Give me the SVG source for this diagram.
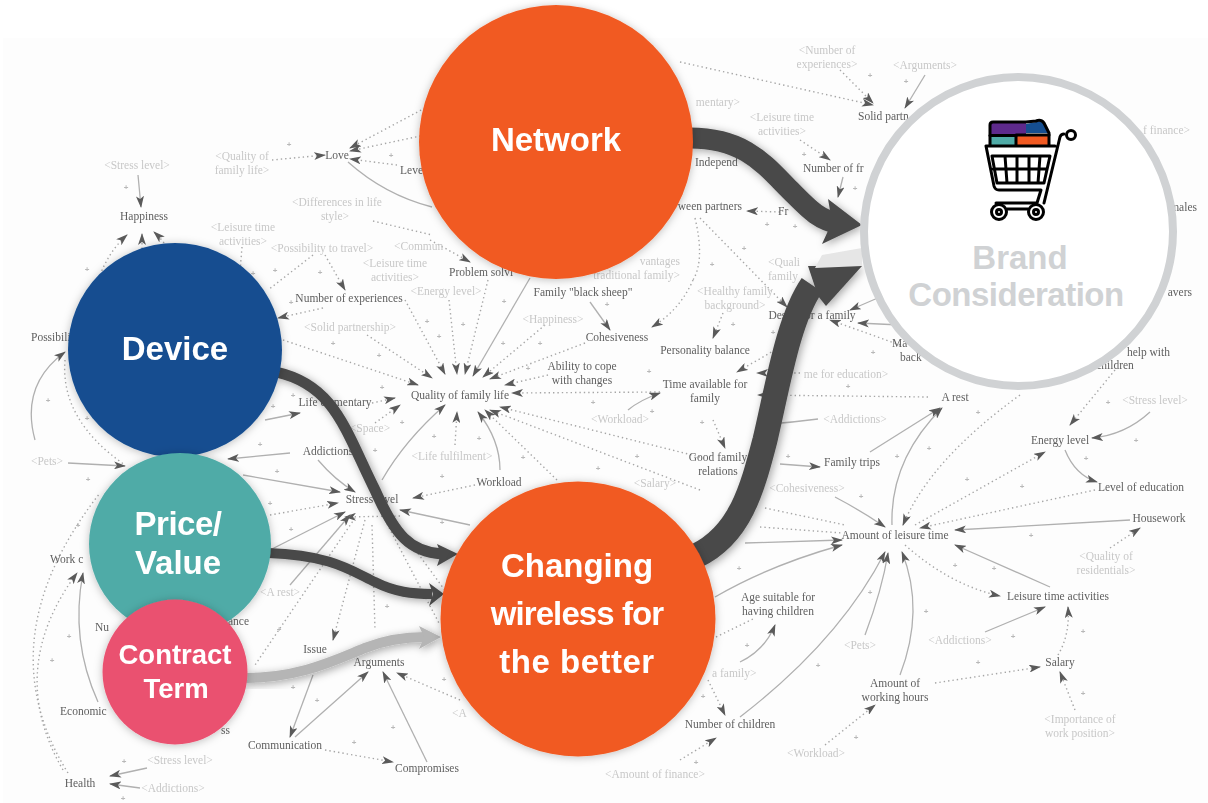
<svg xmlns="http://www.w3.org/2000/svg" width="1208" height="803" viewBox="0 0 1208 803">
<style>
.t{font-family:"Liberation Serif","DejaVu Serif",serif;font-size:11.500px;text-anchor:middle;fill:#606060}
.g{fill:#c8c8c8}
.e{text-anchor:end}
.st{text-anchor:start}
.p{font-family:"Liberation Sans",Arial,sans-serif;font-size:8px;font-weight:bold;text-anchor:middle;fill:#b8b8b8}
.s{fill:none;stroke:#b0b0b0;stroke-width:1.3;marker-end:url(#h)}
.d{fill:none;stroke:#a6a6a6;stroke-width:1.4;stroke-dasharray:1.4 3;marker-end:url(#h)}
.n{fill:none;stroke:#b0b0b0;stroke-width:1.3}
.m{fill:none;stroke:#a6a6a6;stroke-width:1.4;stroke-dasharray:1.4 3}
.a{fill:none;stroke:#4a4a4a}
.ah{fill:#4a4a4a}
.l{font-family:"Liberation Sans",Arial,sans-serif;font-weight:bold;text-anchor:middle;fill:#fff;font-size:33px}
.k{font-size:27.500px}
.b{fill:#d0d2d4}
.c{stroke:#000;stroke-width:3;fill:none;stroke-linecap:round;stroke-linejoin:round}
</style>
<defs>
<marker id="h" viewBox="0 0 12 8" refX="11" refY="4" markerWidth="12" markerHeight="8" markerUnits="userSpaceOnUse" orient="auto"><path d="M0 0L12 4L0 8L3 4Z" fill="#5a5a5a"/></marker>
<filter id="soft" x="-2%" y="-2%" width="104%" height="104%"><feGaussianBlur stdDeviation="0.6"/></filter>
<filter id="ns" x="-20%" y="-20%" width="140%" height="140%"><feDropShadow dx="0" dy="1" stdDeviation="4" flood-color="#000" flood-opacity=".25"/></filter>
<filter id="as" x="-20%" y="-20%" width="140%" height="140%"><feDropShadow dx="2" dy="2" stdDeviation="4" flood-color="#000" flood-opacity=".35"/></filter>
</defs>
<rect width="1208" height="803" fill="#fff"/>
<rect x="3" y="38" width="1205" height="765" fill="#fdfdfd"/>
<g id="background-map" filter="url(#soft)">
<g id="map-links">
<path class="s" d="M138 175L141 207"/>
<path class="d" d="M100 275Q110 250 127 235"/><path class="d" d="M142 262L142 234"/><path class="d" d="M175 262Q168 245 154 232"/>
<path class="d" d="M272 160L325 155"/><path class="d" d="M425 108L350 148"/><path class="d" d="M425 135L350 151"/><path class="d" d="M397 165L350 159"/>
<path class="n" d="M348 162Q385 195 432 207"/><path class="m" d="M373 221L432 235"/><path class="m" d="M242 247L240 272"/>
<path class="m" d="M313 255L268 290"/><path class="d" d="M325 255L345 290"/><path class="d" d="M323 308L278 318"/>
<path class="s" d="M265 420L300 413"/>
<path class="d" d="M283 340L418 385"/><path class="d" d="M367 335L432 378"/><path class="d" d="M405 300L445 374"/><path class="d" d="M449 300L457 374"/><path class="d" d="M488 280L465 374"/><path class="s" d="M530 278L473 376"/><path class="d" d="M545 325L483 377"/><path class="d" d="M585 343L490 379"/><path class="d" d="M548 375L505 385"/><path class="d" d="M660 392L512 393"/>
<path class="d" d="M700 457L500 407"/><path class="d" d="M700 490L490 410"/><path class="d" d="M557 480L485 410"/><path class="s" d="M500 470Q500 440 478 412"/><path class="d" d="M455 445L457 412"/><path class="s" d="M382 480Q405 440 445 405"/><path class="d" d="M372 403L395 398"/><path class="d" d="M375 423L400 405"/>
<path class="s" d="M628 410Q640 400 660 393"/>
<path class="d" d="M430 240L470 262"/><path class="s" d="M590 302L610 330"/><path class="d" d="M693 280Q680 310 652 327"/><path class="m" d="M695 218Q705 260 693 280"/><path class="d" d="M700 218L787 307"/>
<path class="d" d="M723 313L713 338"/><path class="d" d="M775 350L737 372"/><path class="d" d="M800 373L757 373"/><path class="d" d="M928 397L758 395"/><path class="d" d="M780 212L747 211"/>
<path class="d" d="M680 62L873 105"/><path class="d" d="M840 70L873 103"/><path class="s" d="M925 75L905 108"/><path class="d" d="M800 140L830 160"/><path class="s" d="M843 177L838 197"/>
<path class="d" d="M900 345L830 320"/><path class="s" d="M900 325L858 323"/><path class="s" d="M880 297L850 310"/>
<path class="d" d="M713 420L725 448"/><path class="s" d="M780 464L820 467"/><path class="s" d="M870 452L940 408"/><path class="s" d="M892 525Q890 460 942 408"/><path class="d" d="M1020 395Q930 460 903 525"/>
<path class="n" d="M770 424Q795 422 818 419"/>
<path class="s" d="M835 497Q860 510 885 527"/><path class="m" d="M765 508L845 525"/><path class="m" d="M760 527L842 533"/><path class="s" d="M745 543L842 540"/><path class="s" d="M715 597Q770 565 842 545"/>
<path class="s" d="M740 717Q840 640 885 552"/><path class="s" d="M865 635Q882 590 888 553"/><path class="s" d="M900 675Q925 610 902 552"/>
<path class="s" d="M1130 520L955 530"/><path class="s" d="M1050 587L955 545"/><path class="d" d="M905 545Q950 585 1000 596"/><path class="d" d="M1095 490L920 528"/><path class="d" d="M915 525L1045 452"/>
<path class="s" d="M1065 450Q1075 475 1097 482"/><path class="s" d="M1150 412Q1125 435 1092 438"/><path class="d" d="M1115 370L1070 425"/><path class="d" d="M1110 548L1140 528"/><path class="s" d="M985 632L1045 607"/><path class="d" d="M1058 655Q1070 635 1068 607"/><path class="d" d="M935 683L1040 667"/><path class="d" d="M1075 710L1060 672"/><path class="d" d="M825 745L875 705"/>
<path class="s" d="M740 662Q765 650 775 625"/><path class="m" d="M716 637L755 618"/><path class="d" d="M708 680L725 715"/><path class="d" d="M680 760L716 738"/>
<path class="s" d="M318 460Q335 480 355 492"/><path class="s" d="M290 453L228 459"/><path class="s" d="M243 475L340 492"/><path class="d" d="M270 515L338 503"/><path class="d" d="M475 485L413 498"/><path class="s" d="M470 525L400 510"/><path class="s" d="M68 463L125 466"/>
<path class="d" d="M400 516L345 517"/><path class="m" d="M355 518L255 665"/><path class="d" d="M365 520L333 640"/><path class="m" d="M372 525L375 630"/><path class="m" d="M385 520L440 625"/><path class="m" d="M392 518L452 600"/><path class="s" d="M290 585L350 515"/><path class="s" d="M270 550L345 512"/>
<path class="m" d="M68 773Q-15 640 100 493"/><path class="d" d="M63 770Q5 670 77 573"/><path class="s" d="M98 702Q70 640 83 573"/>
<path class="s" d="M147 768L110 776"/><path class="s" d="M140 788L110 784"/>
<path class="s" d="M313 675L290 737"/><path class="s" d="M295 737L368 672"/><path class="s" d="M427 762L383 672"/><path class="d" d="M325 750L393 762"/><path class="d" d="M460 700L397 673"/>
<path class="s" d="M35 440Q20 385 65 352"/><path class="m" d="M65 360Q60 420 125 465"/>
</g>
<g id="map-labels">
<text class="t g" x="137" y="169">&lt;Stress level&gt;</text><text class="t" x="144" y="220">Happiness</text>
<text class="t g" x="242" y="160">&lt;Quality of</text><text class="t g" x="242" y="174">family life&gt;</text><text class="t" x="337" y="159">Love</text><text class="t st" x="400" y="174">Level</text>
<text class="t g" x="337" y="206">&lt;Differences in life</text><text class="t g" x="335" y="220">style&gt;</text>
<text class="t g" x="243" y="231">&lt;Leisure time</text><text class="t g" x="243" y="245">activities&gt;</text><text class="t g" x="322" y="252">&lt;Possibility to travel&gt;</text><text class="t" x="349" y="302">Number of experiences</text><text class="t g" x="350" y="331">&lt;Solid partnership&gt;</text>
<text class="t st" x="31" y="341">Possibili</text>
<text class="t g st" x="394" y="250">&lt;Commun</text><text class="t g" x="395" y="267">&lt;Leisure time</text><text class="t g" x="395" y="281">activities&gt;</text><text class="t g" x="446" y="295">&lt;Energy level&gt;</text><text class="t st" x="449" y="276">Problem solvi</text>
<text class="t g e" x="680" y="265">vantages</text><text class="t g e" x="680" y="279">traditional family&gt;</text>
<text class="t" x="583" y="296">Family "black sheep"</text><text class="t g" x="553" y="323">&lt;Happiness&gt;</text><text class="t" x="617" y="341">Cohesiveness</text><text class="t" x="582" y="370">Ability to cope</text><text class="t" x="582" y="384">with changes</text><text class="t" x="705" y="354">Personality balance</text><text class="t" x="705" y="388">Time available for</text><text class="t" x="705" y="402">family</text>
<text class="t" x="460" y="399">Quality of family life</text><text class="t g" x="452" y="460">&lt;Life fulfilment&gt;</text><text class="t" x="499" y="486">Workload</text><text class="t g" x="620" y="423">&lt;Workload&gt;</text><text class="t g" x="655" y="487">&lt;Salary&gt;</text>
<text class="t" x="335" y="406">Life elementary</text><text class="t g" x="370" y="432">&lt;Space&gt;</text><text class="t" x="328" y="455">Addictions</text><text class="t" x="372" y="503">Stress level</text><text class="t g" x="47" y="465">&lt;Pets&gt;</text>
<text class="t st" x="50" y="563">Work c</text><text class="t st" x="95" y="631">Nu</text><text class="t st" x="228" y="625">ance</text><text class="t st" x="60" y="715">Economic</text><text class="t st" x="221" y="734">ss</text><text class="t" x="80" y="787">Health</text><text class="t g" x="180" y="764">&lt;Stress level&gt;</text><text class="t g" x="173" y="792">&lt;Addictions&gt;</text>
<text class="t" x="285" y="749">Communication</text><text class="t" x="427" y="772">Compromises</text><text class="t" x="379" y="666">Arguments</text><text class="t" x="315" y="653">Issue</text><text class="t g" x="280" y="596">&lt;A rest&gt;</text><text class="t g st" x="452" y="717">&lt;A</text>
<text class="t g" x="827" y="54">&lt;Number of</text><text class="t g" x="827" y="68">experiences&gt;</text><text class="t g" x="925" y="69">&lt;Arguments&gt;</text><text class="t st" x="858" y="120">Solid partn</text>
<text class="t g e" x="740" y="106">mentary&gt;</text><text class="t st" x="695" y="166">Independ</text><text class="t g" x="782" y="121">&lt;Leisure time</text><text class="t g" x="782" y="135">activities&gt;</text><text class="t st" x="803" y="172">Number of fr</text>
<text class="t e" x="742" y="210">ween partners</text><text class="t st" x="778" y="215">Fr</text>
<text class="t g st" x="768" y="266">&lt;Quali</text><text class="t g st" x="768" y="280">family</text><text class="t g" x="735" y="295">&lt;Healthy family</text><text class="t g" x="735" y="309">background&gt;</text><text class="t" x="812" y="319">Desire for a family</text><text class="t st" x="892" y="347">Ma</text><text class="t st" x="900" y="361">back</text>
<text class="t e" x="1170" y="356">help with</text><text class="t" x="1115" y="369">children</text><text class="t g" x="1155" y="404">&lt;Stress level&gt;</text><text class="t g e" x="1190" y="134">f finance&gt;</text><text class="t e" x="1197" y="211">males</text><text class="t e" x="1192" y="296">avers</text>
<text class="t g" x="846" y="378">me for education&gt;</text><text class="t" x="955" y="401">A rest</text><text class="t g" x="855" y="423">&lt;Addictions&gt;</text><text class="t" x="852" y="466">Family trips</text><text class="t" x="718" y="461">Good family</text><text class="t" x="718" y="475">relations</text><text class="t g" x="807" y="492">&lt;Cohesiveness&gt;</text>
<text class="t" x="895" y="539">Amount of leisure time</text><text class="t" x="1060" y="444">Energy level</text><text class="t" x="1141" y="491">Level of education</text><text class="t" x="1159" y="522">Housework</text><text class="t g" x="1106" y="560">&lt;Quality of</text><text class="t g" x="1106" y="574">residentials&gt;</text><text class="t" x="1058" y="600">Leisure time activities</text><text class="t g" x="960" y="644">&lt;Addictions&gt;</text><text class="t" x="1060" y="666">Salary</text><text class="t" x="895" y="687">Amount of</text><text class="t" x="895" y="701">working hours</text><text class="t g" x="860" y="649">&lt;Pets&gt;</text>
<text class="t" x="778" y="601">Age suitable for</text><text class="t" x="778" y="615">having children</text><text class="t g st" x="712" y="677">a family&gt;</text><text class="t" x="730" y="728">Number of children</text><text class="t g" x="816" y="757">&lt;Workload&gt;</text><text class="t g" x="1080" y="723">&lt;Importance of</text><text class="t g" x="1080" y="737">work position&gt;</text><text class="t g" x="655" y="778">&lt;Amount of finance&gt;</text>
</g>
<g id="map-signs">
<text class="p" x="126" y="190">+</text><text class="p" x="87" y="272">+</text><text class="p" x="48" y="403">+</text><text class="p" x="87" y="421">+</text><text class="p" x="273" y="409">+</text><text class="p" x="293" y="398">+</text><text class="p" x="253" y="276">+</text><text class="p" x="275" y="273">+</text><text class="p" x="320" y="275">+</text><text class="p" x="291" y="305">+</text><text class="p" x="427" y="324">+</text><text class="p" x="333" y="346">+</text><text class="p" x="379" y="358">+</text><text class="p" x="382" y="390">+</text><text class="p" x="402" y="425">+</text><text class="p" x="375" y="453">+</text><text class="p" x="289" y="147">+</text><text class="p" x="391" y="158">+</text><text class="p" x="463" y="327">+</text><text class="p" x="439" y="339">+</text><text class="p" x="503" y="346">+</text><text class="p" x="540" y="346">+</text><text class="p" x="528" y="371">+</text><text class="p" x="649" y="374">+</text><text class="p" x="593" y="405">+</text><text class="p" x="652" y="414">+</text><text class="p" x="523" y="460">+</text><text class="p" x="637" y="459">+</text><text class="p" x="598" y="471">+</text><text class="p" x="442" y="479">+</text><text class="p" x="434" y="439">+</text><text class="p" x="479" y="441">+</text><text class="p" x="504" y="304">+</text><text class="p" x="607" y="307">+</text><text class="p" x="702" y="425">+</text><text class="p" x="788" y="459">+</text><text class="p" x="897" y="459">+</text><text class="p" x="929" y="451">+</text><text class="p" x="978" y="415">+</text><text class="p" x="1108" y="405">+</text><text class="p" x="1136" y="443">+</text><text class="p" x="1086" y="461">+</text><text class="p" x="1022" y="489">+</text><text class="p" x="967" y="482">+</text><text class="p" x="861" y="499">+</text><text class="p" x="739" y="571">+</text><text class="p" x="747" y="648">+</text><text class="p" x="870" y="595">+</text><text class="p" x="926" y="614">+</text><text class="p" x="955" y="568">+</text><text class="p" x="994" y="571">+</text><text class="p" x="1031" y="538">+</text><text class="p" x="1083" y="634">+</text><text class="p" x="1013" y="639">+</text><text class="p" x="978" y="665">+</text><text class="p" x="1083" y="696">+</text><text class="p" x="818" y="668">+</text><text class="p" x="856" y="740">+</text><text class="p" x="703" y="699">+</text><text class="p" x="696" y="765">+</text><text class="p" x="870" y="78">+</text><text class="p" x="906" y="84">+</text><text class="p" x="804" y="157">+</text><text class="p" x="855" y="191">+</text><text class="p" x="767" y="227">+</text><text class="p" x="744" y="251">+</text><text class="p" x="712" y="267">+</text><text class="p" x="733" y="327">+</text><text class="p" x="773" y="335">+</text><text class="p" x="873" y="355">+</text><text class="p" x="848" y="389">+</text><text class="p" x="795" y="229">+</text><text class="p" x="260" y="447">+</text><text class="p" x="277" y="474">+</text><text class="p" x="88" y="482">+</text><text class="p" x="270" y="506">+</text><text class="p" x="78" y="528">+</text><text class="p" x="291" y="532">+</text><text class="p" x="442" y="525">+</text><text class="p" x="69" y="639">+</text><text class="p" x="52" y="663">+</text><text class="p" x="279" y="632">+</text><text class="p" x="387" y="609">+</text><text class="p" x="293" y="690">+</text><text class="p" x="317" y="703">+</text><text class="p" x="393" y="730">+</text><text class="p" x="354" y="745">+</text><text class="p" x="444" y="682">+</text><text class="p" x="124" y="764">+</text><text class="p" x="123" y="801">+</text>
</g>
</g>
<g id="connectors">
<g filter="url(#as)"><path class="a" stroke-width="21" d="M690 138C745 138 765 165 790 190C808 208 818 220 840 224"/><path class="ah" d="M828 199L862 225L822 244L832 222Z"/></g>
<g filter="url(#as)"><path class="a" stroke-width="25" d="M696 556C740 535 752 490 765 440C778 385 788 320 812 285"/><path class="ah" d="M808 266L862 266L826 306L818 296Z"/></g>
<g filter="url(#as)"><path class="a" stroke-width="11" d="M276 372C335 385 345 430 375 490C395 535 410 552 442 554"/><path class="ah" d="M437 544L458 554L437 566L441 554Z"/></g>
<g filter="url(#as)"><path class="a" stroke-width="10" d="M268 553C330 555 350 570 375 582C395 592 412 594 432 594"/><path class="ah" d="M429 583L444 594L429 606L433 594Z"/></g>
<g filter="url(#as)"><path class="a" style="stroke:#b5b5b5" stroke-width="10" d="M244 678C300 678 335 660 365 648C385 640 405 637 425 637"/><path fill="#b5b5b5" d="M419 626L441 637L419 649L424 637Z"/></g>
<path d="M822 255L862 248L862 266L815 268Z" fill="#e6e6e6" filter="url(#soft)"/>
</g>
<g id="node-network" filter="url(#ns)"><circle cx="556" cy="142" r="137" fill="#f15a22"/><text class="l" x="556" y="151">Network</text></g>
<g id="node-changing" filter="url(#ns)"><circle cx="578" cy="619" r="137.5" fill="#f15a22"/><text class="l" x="577" y="577">Changing</text><text class="l" style="letter-spacing:-.9px" x="577" y="625">wireless for</text><text class="l" style="letter-spacing:.5px" x="577" y="673">the better</text></g>
<g id="node-device" filter="url(#ns)"><circle cx="175" cy="350" r="107" fill="#154e90"/><text class="l" x="175" y="360">Device</text></g>
<g id="node-price" filter="url(#ns)"><circle cx="180" cy="544" r="91" fill="#4faba7"/><text class="l" style="letter-spacing:-.5px" x="178" y="535">Price/</text><text class="l" x="178" y="574">Value</text></g>
<g id="node-contract" filter="url(#ns)"><circle cx="175" cy="672" r="72.5" fill="#ea5170"/><text class="l k" x="175" y="664">Contract</text><text class="l k" x="176" y="698">Term</text></g>
<g id="node-brand">
<circle cx="1018.5" cy="231.5" r="154.5" fill="#fff" stroke="#d0d2d4" stroke-width="8"/>
<g id="cart">
<path d="M990 134V125Q990 123 992 123H1026V134Z" fill="#5e2a8c"/><path d="M1026 133V124L1036 122Q1041 120 1044 124L1049 133Z" fill="#154e90"/>
<rect x="991" y="137" width="25" height="8" fill="#4faba7"/><rect x="1016" y="134" width="33" height="11" fill="#f15a22"/>
<path class="c" d="M990 145V125Q990 122 993 122H1026L1036 121Q1041 119 1044 123L1049 133V145"/><path class="c" d="M1016 145V135H1049"/><path class="c" d="M990 135.500H1016"/>
<path class="c" d="M986 146H1055M986 146L994 186Q995 190 999 190H1041L1037 203H996M1044 203L1060 137Q1061 134 1064 134"/>
<path class="c" d="M992 156H1050L1044 183H997ZM993 169H1047M1005 156L1007 183M1017 156V183M1029 156V183M1040 156L1038 183"/>
<circle class="c" cx="999" cy="212" r="7.500"/><circle class="c" cx="999" cy="212" r="2.500"/><circle class="c" cx="1036" cy="212" r="7.500"/><circle class="c" cx="1036" cy="212" r="2.500"/>
<path class="c" d="M1007 209H1028"/><circle class="c" cx="1071" cy="135" r="4.500"/>
</g>
<text class="l b" x="1020" y="269">Brand</text><text class="l b" style="letter-spacing:-.5px" x="1016" y="306">Consideration</text>
</g>
</svg>
